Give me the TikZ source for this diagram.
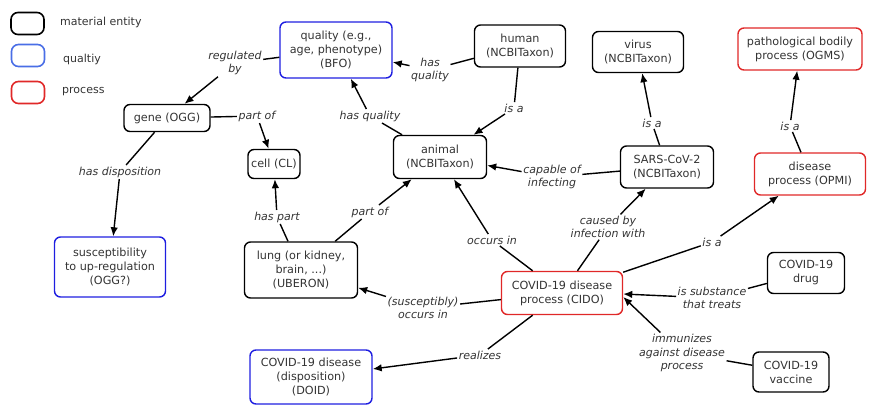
\documentclass[tikz,border=0pt]{standalone}
\usepackage{fontspec}
\setmainfont{DejaVu Sans}
\usetikzlibrary{arrows.meta}
\definecolor{txt}{HTML}{333333}
\definecolor{qblue}{HTML}{1E1EE0}
\definecolor{pred}{HTML}{E02828}
\definecolor{lblue}{HTML}{4A6EE6}
\tikzset{
  box/.style={draw=black, line width=1.4pt, rounded corners=6pt, align=center, text=txt,
    font=\fontsize{11.2}{14}\selectfont, inner sep=1pt},
  qbox/.style={box, draw=qblue},
  pbox/.style={box, draw=pred},
  legbox/.style={draw=#1, line width=1.6pt, rounded corners=7pt, minimum width=33pt, minimum height=22pt, inner sep=0pt},
  legtxt/.style={anchor=west, text=txt, font=\fontsize{11}{13}\selectfont, inner sep=0pt},
  lbl/.style={align=center, text=txt, font=\fontsize{11}{13.5}\selectfont\itshape, inner sep=1.5pt},
  edge/.style={line width=1.4pt, draw=black},
  arr/.style={edge, -{Latex[length=9pt,width=7.5pt]}},
}
\begin{document}
\begin{tikzpicture}[x=1pt,y=-1pt]
\useasboundingbox (0,0) rectangle (872,407);
% legend
\node[legbox=black] (leg1) at (27.5,23.5) {};
\node[legbox=lblue] (leg2) at (28,55.5) {};
\node[legbox=pred] (leg3) at (28,92.5) {};
\node[legtxt] (legt1) at (60,22) {material entity};
\node[legtxt] (legt2) at (63,59) {qualtiy};
\node[legtxt] (legt3) at (62,92) {process};
% nodes
\node[qbox, minimum width=112pt, minimum height=56pt] (quality) at (336,50) {quality (e.g.,\\age, phenotype)\\(BFO)};
\node[box, minimum width=91pt, minimum height=42pt] (human) at (520,46) {human\\(NCBITaxon)};
\node[box, minimum width=91pt, minimum height=41pt] (virus) at (638,52) {virus\\(NCBITaxon)};
\node[pbox, minimum width=124pt, minimum height=42pt] (path) at (800,49) {pathological bodily\\process (OGMS)};
\node[box, minimum width=86pt, minimum height=27pt] (gene) at (167,118) {gene (OGG)};
\node[box, minimum width=52pt, minimum height=29pt] (cell) at (274,164) {cell (CL)};
\node[box, minimum width=93pt, minimum height=43pt] (animal) at (440,157) {animal\\(NCBITaxon)};
\node[box, minimum width=93pt, minimum height=42pt] (sars) at (667,167) {SARS-CoV-2\\(NCBITaxon)};
\node[pbox, minimum width=111pt, minimum height=42pt] (opmi) at (810,174) {disease\\process (OPMI)};
\node[qbox, minimum width=111pt, minimum height=60pt] (susc) at (110,267) {susceptibility\\to up-regulation\\(OGG?)};
\node[box, minimum width=113pt, minimum height=56pt] (lung) at (301,270) {lung (or kidney,\\brain, ...)\\(UBERON)};
\node[pbox, minimum width=121pt, minimum height=43pt] (cido) at (562,293) {COVID-19 disease\\process (CIDO)};
\node[box, minimum width=77pt, minimum height=41pt] (drug) at (806,273) {COVID-19\\drug};
\node[box, minimum width=76pt, minimum height=40pt] (vaccine) at (791,372) {COVID-19\\vaccine};
\node[qbox, minimum width=122pt, minimum height=54pt] (doid) at (311,377) {COVID-19 disease\\(disposition)\\(DOID)};
% labels
\node[lbl] (l1) at (235,63) {regulated\\by};
\node[lbl] (l2) at (257,116) {part of};
\node[lbl] (l3) at (120,172) {has disposition};
\node[lbl] (l4) at (277,217) {has part};
\node[lbl] (l5) at (370,212) {part of};
\node[lbl] (l6) at (430,70) {has\\quality};
\node[lbl] (l7) at (370,116) {has quality};
\node[lbl] (l8) at (514,108) {is a};
\node[lbl] (l9) at (552,177) {capable of\\infecting};
\node[lbl] (l10) at (652,123) {is a};
\node[lbl] (l11) at (790,126) {is a};
\node[lbl] (l12) at (492,240) {occurs in};
\node[lbl] (l13) at (608,227) {caused by\\infection with};
\node[lbl] (l14) at (712,242) {is a};
\node[lbl] (l15) at (423,308) {(susceptibly)\\occurs in};
\node[lbl] (l16) at (480,355) {realizes};
\node[lbl] (l17) at (712,298) {is substance\\that treats};
\node[lbl] (l18) at (682,353) {immunizes\\against disease\\process};
% edges
\draw[edge] (quality) -- (l1); \draw[arr] (l1) -- (gene);
\draw[edge] (gene) -- (l2); \draw[arr] (l2) -- (cell);
\draw[edge] (gene) -- (l3); \draw[arr] (l3) -- (susc);
\draw[edge] (lung) -- (l4); \draw[arr] (l4) -- (cell);
\draw[edge] (lung) -- (l5); \draw[arr] (l5) -- (animal);
\draw[edge] (human) -- (l6); \draw[arr] (l6) -- (quality);
\draw[edge] (animal) -- (l7); \draw[arr] (l7) -- (quality);
\draw[edge] (human) -- (l8); \draw[arr] (l8) -- (animal);
\draw[edge] (sars) -- (l9); \draw[arr] (l9) -- (animal);
\draw[edge] (sars) -- (l10); \draw[arr] (l10) -- (virus);
\draw[edge] (opmi) -- (l11); \draw[arr] (l11) -- (path);
\draw[edge] (cido) -- (l12); \draw[arr] (l12) -- (animal);
\draw[edge] (cido) -- (l13); \draw[arr] (l13) -- (sars);
\draw[edge] (cido) -- (l14); \draw[arr] (l14) -- (opmi);
\draw[edge] (cido) -- (l15); \draw[arr] (l15) -- (lung);
\draw[edge] (cido) -- (l16); \draw[arr] (l16) -- (doid);
\draw[edge] (drug) -- (l17); \draw[arr] (l17) -- ([yshift=-1pt]cido.east);
\draw[edge] (vaccine) -- (l18); \draw[arr] (l18) -- ([yshift=-4pt]cido.east);
\end{tikzpicture}
\end{document}
